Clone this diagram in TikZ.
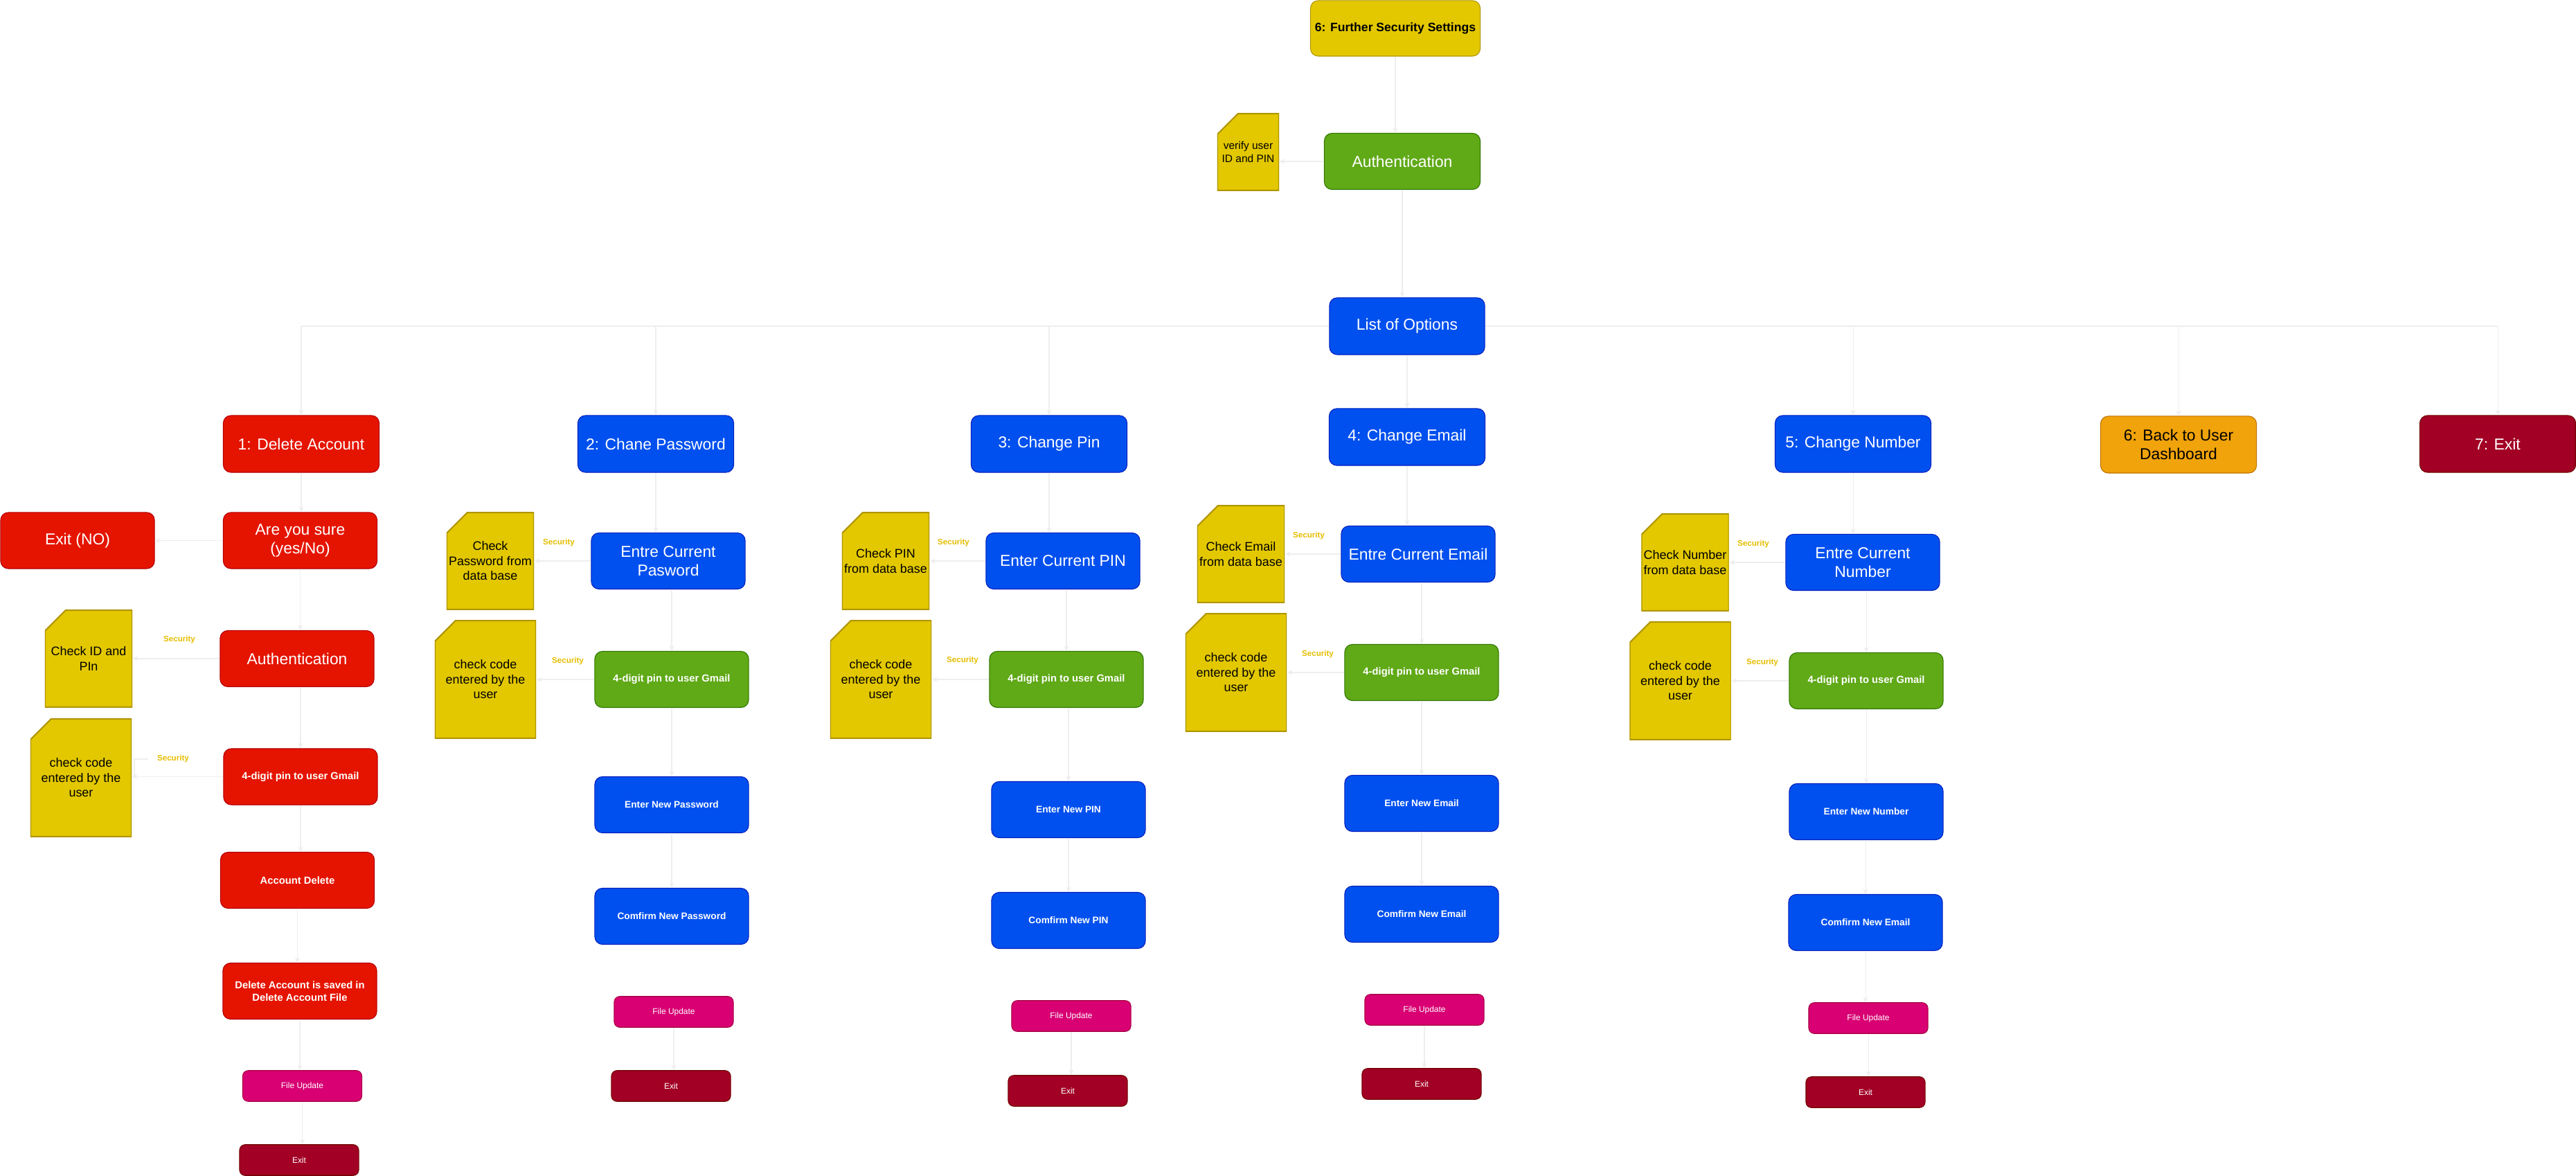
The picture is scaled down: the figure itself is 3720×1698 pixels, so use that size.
\documentclass[tikz,border=0pt]{standalone}
\usepackage{fontspec}
\setmainfont{Liberation Sans}
\usetikzlibrary{arrows.meta}

\definecolor{cblue}{HTML}{0050EF}
\definecolor{cbluel}{HTML}{001DBC}
\definecolor{cred}{HTML}{E51400}
\definecolor{credl}{HTML}{B20000}
\definecolor{cgreen}{HTML}{60A917}
\definecolor{cgreenl}{HTML}{2D7600}
\definecolor{cyel}{HTML}{E3C800}
\definecolor{cyell}{HTML}{B09500}
\definecolor{corange}{HTML}{F0A30A}
\definecolor{corangel}{HTML}{BD7000}
\definecolor{cwine}{HTML}{A20025}
\definecolor{cwinel}{HTML}{6F0000}
\definecolor{cmag}{HTML}{D80073}
\definecolor{cmagl}{HTML}{A50040}
\definecolor{cline}{HTML}{EEEEEE}
\definecolor{csec}{HTML}{E6BE00}

% vertical link leaving at the source's x, vertical link arriving at the target's x,
% and horizontal link to a note on the left
\newcommand{\downsrc}[2]{\draw[conn] (#1.south) -- (#1.south |- #2.north);}
\newcommand{\downtgt}[2]{\draw[conn] (#2.north |- #1.south) -- (#2.north);}
\newcommand{\toleft}[2]{\draw[conn] (#1.west) -- (#1.west -| #2.east);}

\begin{document}
\begin{tikzpicture}[x=0.01cm, y=-0.01cm,
  box/.style={rectangle, rounded corners=1.1mm, line width=0.3pt, align=center, inner sep=0pt},
  bbox/.style={box, fill=cblue, draw=cbluel, text=white},
  rbox/.style={box, fill=cred, draw=credl, text=white},
  gbox/.style={box, fill=cgreen, draw=cgreenl, text=white},
  ybox/.style={box, fill=cyel, draw=cyell, text=black},
  obox/.style={box, fill=corange, draw=corangel, text=black},
  wbox/.style={box, fill=cwine, draw=cwinel, text=white, rounded corners=0.8mm},
  mbox/.style={box, fill=cmag, draw=cmagl, text=white, rounded corners=0.8mm},
  optsize/.style={minimum width=2.25cm, minimum height=0.82cm},
  stepsize/.style={minimum width=2.22cm, minimum height=0.81cm},
  smallsize/.style={minimum width=1.72cm, minimum height=0.445cm},
  big/.style={font=\fontsize{6.5}{7.7}\selectfont},
  boldmid/.style={font=\fontsize{4.2}{5.1}\selectfont\bfseries},
  boldnew/.style={font=\fontsize{3.9}{4.7}\selectfont\bfseries},
  tinytext/.style={font=\fontsize{3.4}{4.1}\selectfont},
  note/.style={rectangle, inner sep=0pt, align=center, text=black, fill=white,
    font=\fontsize{5.1}{6.1}\selectfont,
    path picture={\fill[cyel, draw=cyell, line width=0.6pt]
      ([yshift=-0.3cm]path picture bounding box.north west) --
      ([xshift=0.3cm]path picture bounding box.north west) --
      (path picture bounding box.north east) --
      (path picture bounding box.south east) --
      (path picture bounding box.south west) -- cycle;}},
  checknote/.style={note, minimum width=1.26cm, minimum height=1.40cm},
  codenote/.style={note, minimum width=1.46cm, minimum height=1.70cm},
  seclab/.style={text=csec, inner sep=0pt, font=\fontsize{3.3}{4}\selectfont\bfseries},
  conn/.style={draw=cline, line width=0.3pt, -{Stealth[length=2.2pt, width=2.1pt, inset=0.7pt]}},
  bus/.style={draw=cline, line width=0.8pt},
  leader/.style={draw=cline, line width=0.3pt},
]
\fill[white] (0,0) rectangle (3720,1698);
\useasboundingbox (0,0) rectangle (3720,1698);

% ---------- entry ----------
\node[ybox, minimum width=2.45cm, minimum height=0.80cm, font=\fontsize{5}{6}\selectfont\bfseries] (fss) at (2015,41) {6: Further Security Settings};
\node[note, minimum width=0.89cm, minimum height=1.11cm, font=\fontsize{4.4}{5.4}\selectfont] (verify) at (1802.5,219.5) {verify user\\ID and PIN};
\node[gbox, big, minimum width=2.25cm, minimum height=0.81cm] (authtop) at (2025,233) {Authentication};
\node[bbox, big, minimum width=2.24cm, minimum height=0.82cm] (list) at (2032,471) {List of Options};

% ---------- options ----------
\node[rbox, big, optsize] (del) at (435,641) {1: Delete Account};
\node[bbox, big, optsize] (pwd) at (947,641) {2: Chane Password};
\node[bbox, big, optsize] (pin) at (1515,641) {3: Change Pin};
\node[bbox, big, optsize] (email) at (2032,631) {4: Change Email};
\node[bbox, big, optsize] (num) at (2676,641) {5: Change Number};
\node[obox, big, optsize] (back) at (3146,642) {6: Back to User\\Dashboard};
\node[wbox, big, optsize, rounded corners=1.1mm] (exit7) at (3607,641) {7: Exit};

% ---------- 1: delete account ----------
\node[rbox, big, stepsize] (exitno) at (112,780.5) {Exit (NO)};
\node[rbox, big, stepsize] (sure) at (433.5,780.5) {Are you sure\\(yes/No)};
\node[rbox, big, stepsize] (auth1) at (429,951) {Authentication};
\node[checknote] (noteid) at (128,951) {Check ID and\\PIn};
\node[rbox, boldmid, stepsize] (pin1) at (434,1121.5) {4-digit pin to user Gmail};
\node[codenote] (code1) at (117,1123) {check code\\entered by the\\user};
\node[rbox, boldmid, stepsize] (accdel) at (429.5,1271) {Account Delete};
\node[rbox, boldmid, stepsize] (saved) at (433,1431) {Delete Account is saved in\\Delete Account File};
\node[mbox, tinytext, smallsize] (file1) at (436.5,1568) {File Update};
\node[wbox, tinytext, smallsize] (exit1) at (432,1675) {Exit};
\node[seclab] (sec1a) at (259,924) {Security};
\node[seclab] (sec1b) at (250,1096) {Security};

% ---------- 2: password ----------
\node[checknote] (notepw) at (708,810) {Check\\Password from\\data base};
\node[bbox, big, stepsize] (cur2) at (965,810) {Entre Current\\Pasword};
\node[codenote] (code2) at (701,981) {check code\\entered by the\\user};
\node[gbox, boldmid, stepsize] (g2) at (970,981) {4-digit pin to user Gmail};
\node[bbox, boldnew, stepsize] (new2) at (970,1162) {Enter New Password};
\node[bbox, boldnew, stepsize] (conf2) at (970,1323) {Comfirm New Password};
\node[mbox, tinytext, smallsize] (file2) at (973,1461) {File Update};
\node[wbox, tinytext, smallsize] (exit2) at (969,1568) {Exit};
\node[seclab] (sec2a) at (807,784) {Security};
\node[seclab] (sec2b) at (820,955) {Security};

% ---------- 3: pin ----------
\node[checknote] (notepin) at (1279,810) {Check PIN\\from data base};
\node[bbox, big, stepsize] (cur3) at (1535,810) {Enter Current PIN};
\node[codenote] (code3) at (1272,981) {check code\\entered by the\\user};
\node[gbox, boldmid, stepsize] (g3) at (1540,981) {4-digit pin to user Gmail};
\node[bbox, boldnew, stepsize] (new3) at (1543,1169) {Enter New PIN};
\node[bbox, boldnew, stepsize] (conf3) at (1543,1329) {Comfirm New PIN};
\node[mbox, tinytext, smallsize] (file3) at (1547,1467) {File Update};
\node[wbox, tinytext, smallsize] (exit3) at (1542,1575) {Exit};
\node[seclab] (sec3a) at (1377,784) {Security};
\node[seclab] (sec3b) at (1390,954) {Security};

% ---------- 4: email ----------
\node[checknote] (notemail) at (1792,800) {Check Email\\from data base};
\node[bbox, big, stepsize] (cur4) at (2048,800) {Entre Current Email};
\node[codenote] (code4) at (1785,971) {check code\\entered by the\\user};
\node[gbox, boldmid, stepsize] (g4) at (2053,971) {4-digit pin to user Gmail};
\node[bbox, boldnew, stepsize] (new4) at (2053,1160) {Enter New Email};
\node[bbox, boldnew, stepsize] (conf4) at (2053,1320) {Comfirm New Email};
\node[mbox, tinytext, smallsize] (file4) at (2057,1458) {File Update};
\node[wbox, tinytext, smallsize] (exit4) at (2053,1565) {Exit};
\node[seclab] (sec4a) at (1890,774) {Security};
\node[seclab] (sec4b) at (1903,945) {Security};

% ---------- 5: number ----------
\node[checknote] (notenum) at (2433.5,812) {Check Number\\from data base};
\node[bbox, big, stepsize] (cur5) at (2690,812) {Entre Current\\Number};
\node[codenote] (code5) at (2426.5,983) {check code\\entered by the\\user};
\node[gbox, boldmid, stepsize] (g5) at (2695,983) {4-digit pin to user Gmail};
\node[bbox, boldnew, stepsize] (new5) at (2695,1172) {Enter New Number};
\node[bbox, boldnew, stepsize] (conf5) at (2694,1332) {Comfirm New Email};
\node[mbox, tinytext, smallsize] (file5) at (2698,1470) {File Update};
\node[wbox, tinytext, smallsize] (exit5) at (2694,1577) {Exit};
\node[seclab] (sec5a) at (2532,786) {Security};
\node[seclab] (sec5b) at (2545,957) {Security};

% ---------- connectors: entry ----------
\downsrc{fss}{authtop}
\toleft{authtop}{verify}
\downsrc{authtop}{list}

% bus from the list of options to every option
\draw[bus] (list.west) -- (list.west -| del.north);
\draw[bus] (list.east) -- (list.east -| exit7.north);
\foreach \o in {del,pwd,pin} {\draw[conn] (list.west -| \o.north) -- (\o.north);}
\foreach \o in {num,back,exit7} {\draw[conn] (list.east -| \o.north) -- (\o.north);}
\downsrc{list}{email}

% ---------- connectors: delete account ----------
\downsrc{del}{sure}
\toleft{sure}{exitno}
\downsrc{sure}{auth1}
\toleft{auth1}{noteid}
\downtgt{auth1}{pin1}
\toleft{pin1}{code1}
\coordinate (lead1) at (194,1121.5);
\draw[leader] ([xshift=-0.12cm]sec1b.west) -| (lead1);
\downsrc{pin1}{accdel}
\downsrc{accdel}{saved}
\downsrc{saved}{file1}
\downsrc{file1}{exit1}

% ---------- connectors: password ----------
\downsrc{pwd}{cur2}
\toleft{cur2}{notepw}
\downtgt{cur2}{g2}
\toleft{g2}{code2}
\downtgt{g2}{new2}
\downtgt{new2}{conf2}
\downsrc{file2}{exit2}

% ---------- connectors: pin ----------
\downsrc{pin}{cur3}
\toleft{cur3}{notepin}
\downtgt{cur3}{g3}
\toleft{g3}{code3}
\downtgt{g3}{new3}
\downtgt{new3}{conf3}
\downsrc{file3}{exit3}

% ---------- connectors: email ----------
\downsrc{email}{cur4}
\toleft{cur4}{notemail}
\downtgt{cur4}{g4}
\toleft{g4}{code4}
\downtgt{g4}{new4}
\downtgt{new4}{conf4}
\downsrc{file4}{exit4}

% ---------- connectors: number ----------
\downsrc{num}{cur5}
\toleft{cur5}{notenum}
\downtgt{cur5}{g5}
\toleft{g5}{code5}
\downtgt{g5}{new5}
\downtgt{new5}{conf5}
\downsrc{conf5}{file5}
\downsrc{file5}{exit5}
\end{tikzpicture}
\end{document}
